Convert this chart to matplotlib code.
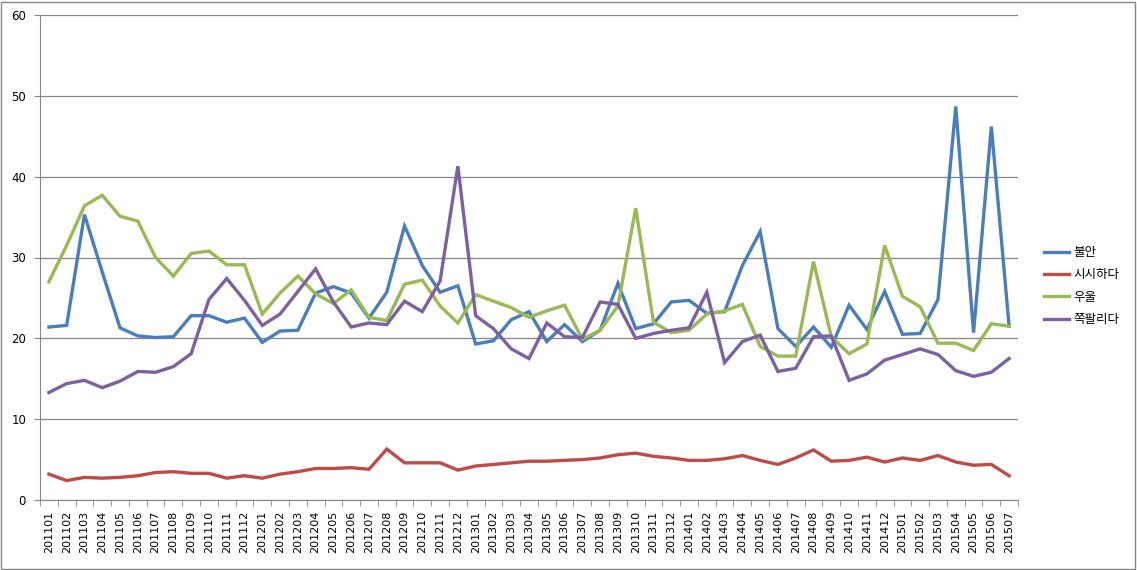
import matplotlib
matplotlib.use("Agg")
import matplotlib.pyplot as plt
from matplotlib.patches import Rectangle

months = ["201101","201102","201103","201104","201105","201106","201107","201108","201109","201110","201111","201112",
          "201201","201202","201203","201204","201205","201206","201207","201208","201209","201210","201211","201212",
          "201301","201302","201303","201304","201305","201306","201307","201308","201309","201310","201311","201312",
          "201401","201402","201403","201404","201405","201406","201407","201408","201409","201410","201411","201412",
          "201501","201502","201503","201504","201505","201506","201507"]

anxiety = [21.4,21.6,35.3,28.2,21.3,20.3,20.1,20.2,22.8,22.8,22.0,22.5,
           19.5,20.9,21.0,25.6,26.4,25.6,22.5,25.7,33.9,29.0,25.7,26.5,
           19.3,19.7,22.3,23.3,19.6,21.7,19.6,21.0,26.8,21.2,21.8,24.5,
           24.7,23.1,23.3,29.0,33.2,21.2,19.0,21.4,18.9,24.1,21.1,25.8,
           20.5,20.6,24.8,48.7,20.7,46.2,21.5]

boring = [3.2,2.4,2.8,2.7,2.8,3.0,3.4,3.5,3.3,3.3,2.7,3.0,
          2.7,3.2,3.5,3.9,3.9,4.0,3.8,6.3,4.6,4.6,4.6,3.7,
          4.2,4.4,4.6,4.8,4.8,4.9,5.0,5.2,5.6,5.8,5.4,5.2,
          4.9,4.9,5.1,5.5,4.9,4.4,5.2,6.2,4.8,4.9,5.3,4.7,
          5.2,4.9,5.5,4.7,4.3,4.4,3.0]

depressed = [27.0,31.5,36.4,37.7,35.1,34.5,30.0,27.7,30.5,30.8,29.1,29.1,
             23.0,25.6,27.7,25.5,24.3,26.0,22.6,22.2,26.7,27.2,24.0,21.9,
             25.4,24.6,23.8,22.6,23.4,24.1,19.9,21.0,24.0,36.1,22.0,20.7,
             21.0,23.0,23.4,24.2,19.0,17.8,17.8,29.5,20.2,18.1,19.3,31.5,
             25.2,23.9,19.4,19.4,18.5,21.8,21.5]

embarrassed = [13.3,14.4,14.8,13.9,14.7,15.9,15.8,16.5,18.1,24.8,27.4,24.7,
               21.6,23.0,25.8,28.6,24.5,21.4,21.9,21.7,24.6,23.3,27.1,41.3,
               22.8,21.2,18.7,17.5,21.9,20.2,20.1,24.5,24.2,20.0,20.6,21.0,
               21.3,25.7,17.0,19.6,20.4,15.9,16.3,20.2,20.3,14.8,15.6,17.3,
               18.0,18.7,18.0,16.0,15.3,15.8,17.5]

series_names = ["불안", "시시하다", "우울", "쪽팔리다"]
series_colors = ["#4A7EBB", "#BE4B48", "#98B954", "#7D60A0"]
yticks = [0, 10, 20, 30, 40, 50, 60]

W, H = 1137, 570
fig = plt.figure(figsize=(W/100, H/100), dpi=100)
ax = fig.add_axes([40/W, 1-500/H, (1018-40)/W, (500-15)/H])

x = list(range(len(months)))
for vals, name, col in zip([anxiety, boring, depressed, embarrassed], series_names, series_colors):
    ax.plot(x, vals, color=col, lw=2.4, label=name, solid_joinstyle='miter')

ax.set_xlim(-0.5, len(months)-0.5)
ax.set_ylim(0, 60)
ax.set_yticks(yticks)
ax.set_yticklabels([str(v) for v in yticks], fontsize=8.5, family='DejaVu Sans')
ax.set_xticks(x)
ax.set_xticklabels(months, rotation=90, fontsize=8, family='DejaVu Sans')
ax.tick_params(axis='x', length=0, pad=8)
ax.tick_params(axis='y', length=4, color='#868686', pad=6)
# minor ticks between categories on x axis
ax.set_xticks([i - 0.5 for i in range(len(months)+1)], minor=True)
ax.tick_params(axis='x', which='minor', length=4, color='#868686')

ax.grid(axis='y', color='#868686', lw=0.9)
ax.set_axisbelow(True)
for s in ['top', 'right']:
    ax.spines[s].set_visible(False)
ax.spines['left'].set_color('#868686')
ax.spines['bottom'].set_color('#868686')

leg = fig.legend(loc='center left', bbox_to_anchor=(1033/W, 1-286/H), frameon=False,
                 prop={'family': ['Noto Sans CJK KR', 'DejaVu Sans'], 'size': 9},
                 handlelength=2.0, handletextpad=0.3, labelspacing=0.75)
for h in leg.get_lines():
    h.set_linewidth(2.4)

fig.patches.append(Rectangle((1/W, 1/H), (W-3)/W, (H-3)/H, transform=fig.transFigure,
                             fill=False, edgecolor='#868686', lw=1))

fig.savefig("out.png", dpi=100, facecolor='white')
